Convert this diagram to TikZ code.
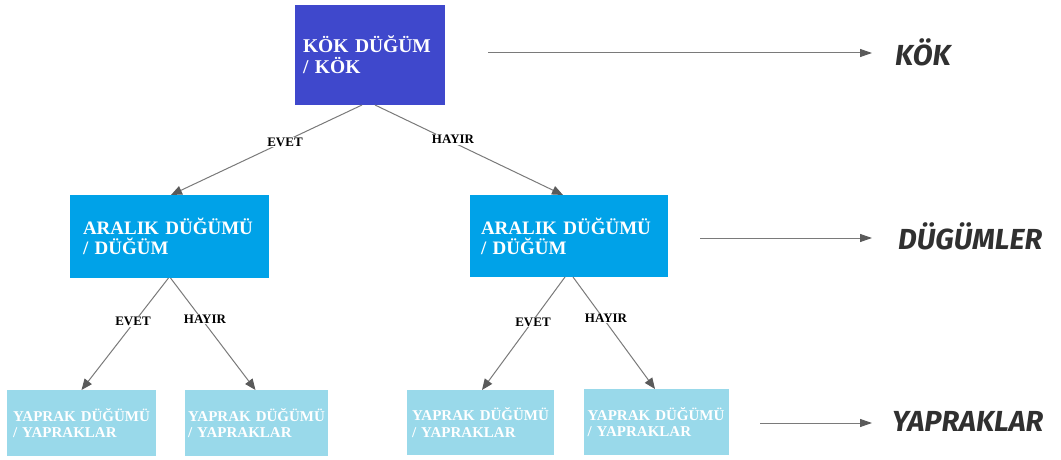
\documentclass[tikz,border=0pt]{standalone}
\usepackage{fontspec}
\setmainfont{Liberation Serif}
\newfontfamily\handfont{Fira Sans}
\usetikzlibrary{arrows.meta,calc}
\definecolor{rootblue}{HTML}{3F48CC}
\definecolor{midblue}{HTML}{00A2E8}
\definecolor{leafblue}{HTML}{99D9EA}
\definecolor{edgegray}{HTML}{7A7A7A}
\definecolor{tipgray}{HTML}{5A5A5A}
\definecolor{handgray}{HTML}{303030}
\tikzset{
  box/.style={rectangle, draw=none, text=white, align=left, inner ysep=0pt, outer sep=0pt},
  rootbox/.style={box, fill=rootblue, font=\fontsize{19.5}{21}\selectfont\bfseries},
  midbox/.style={box, fill=midblue, font=\fontsize{19}{20}\selectfont\bfseries},
  leafbox/.style={box, fill=leafblue, font=\fontsize{15}{16.5}\selectfont\bfseries},
  edge/.style={draw=edgegray, line width=1pt, -{Triangle[length=11pt,width=9pt,color=tipgray]}},
  elabel/.style={fill=white, inner sep=1pt, font=\fontsize{13}{13}\selectfont\bfseries, text=black},
  hand/.style={inner sep=0pt, anchor=west, text=handgray, font=\handfont\fontsize{29}{29}\selectfont\bfseries\itshape},
  side/.style={draw=edgegray, line width=1pt, -{Triangle[length=12pt,width=8pt,color=tipgray]}}
}
\begin{document}
\begin{tikzpicture}[x=1pt,y=-1pt]
\useasboundingbox[fill=white] (0,0) rectangle (1061,460);
% boxes
\node[rootbox, minimum width=150pt, minimum height=100pt, inner xsep=8pt, text width=134pt] (root) at (370,55) {KÖK DÜĞÜM\\/ KÖK};
\node[midbox, minimum width=199pt, minimum height=83pt, inner xsep=13pt, text width=173pt] (mid1) at (169.5,236.5) {ARALIK DÜĞÜMÜ\\/ DÜĞÜM};
\node[midbox, minimum width=198pt, minimum height=82pt, inner xsep=11pt, text width=176pt] (mid2) at (569,236) {ARALIK DÜĞÜMÜ\\/ DÜĞÜM};
\node[leafbox, minimum width=149pt, minimum height=66pt, inner xsep=6pt, text width=137pt] (leaf1) at (81.5,423) {YAPRAK DÜĞÜMÜ\\/ YAPRAKLAR};
\node[leafbox, minimum width=143pt, minimum height=66pt, inner xsep=3pt, text width=137pt] (leaf2) at (256.5,423) {YAPRAK DÜĞÜMÜ\\/ YAPRAKLAR};
\node[leafbox, minimum width=147pt, minimum height=65pt, inner xsep=5pt, text width=137pt] (leaf3) at (480.5,422.5) {YAPRAK DÜĞÜMÜ\\/ YAPRAKLAR};
\node[leafbox, minimum width=144pt, minimum height=66pt, inner xsep=4pt, text width=137pt] (leaf4) at (656,422) {YAPRAK DÜĞÜMÜ\\/ YAPRAKLAR};
% tree edges
\draw[edge] ($(root.south)+(-8,0)$) -- ($(mid1.north)+(1.5,0)$);
\draw[edge] ($(root.south)+(5,0)$) -- ($(mid2.north)+(-6,0)$);
\draw[edge] ($(mid1.south)+(-1,0)$) -- (leaf1.north);
\draw[edge] ($(mid1.south)+(1,0)$) -- ($(leaf2.north)+(-1,0)$);
\draw[edge] ($(mid2.south)+(-4,0)$) -- ($(leaf3.north)+(1.5,0)$);
\draw[edge] ($(mid2.south)+(4,0)$) -- ($(leaf4.north)+(-1,0)$);
% edge labels
\node[elabel] (l1) at (285,142) {EVET};
\node[elabel] (l2) at (453,139.5) {HAYIR};
\node[elabel] (l3) at (133,321.5) {EVET};
\node[elabel] (l4) at (205,319) {HAYIR};
\node[elabel] (l5) at (533,322) {EVET};
\node[elabel] (l6) at (606,318) {HAYIR};
% side labels
\node[hand] (hk) at (895,52) {KÖK};
\node[hand] (hd) at (898,236) {DÜGÜMLER};
\node[hand] (hy) at (892,421) {YAPRAKLAR};
\coordinate (s1) at (488,53);
\coordinate (s2) at (700,238);
\coordinate (s3) at (760,423);
\draw[side, shorten >=23pt] (s1) -- (s1 -| hk.west);
\draw[side, shorten >=26pt] (s2) -- (s2 -| hd.west);
\draw[side, shorten >=20pt] (s3) -- (s3 -| hy.west);
\end{tikzpicture}
\end{document}
